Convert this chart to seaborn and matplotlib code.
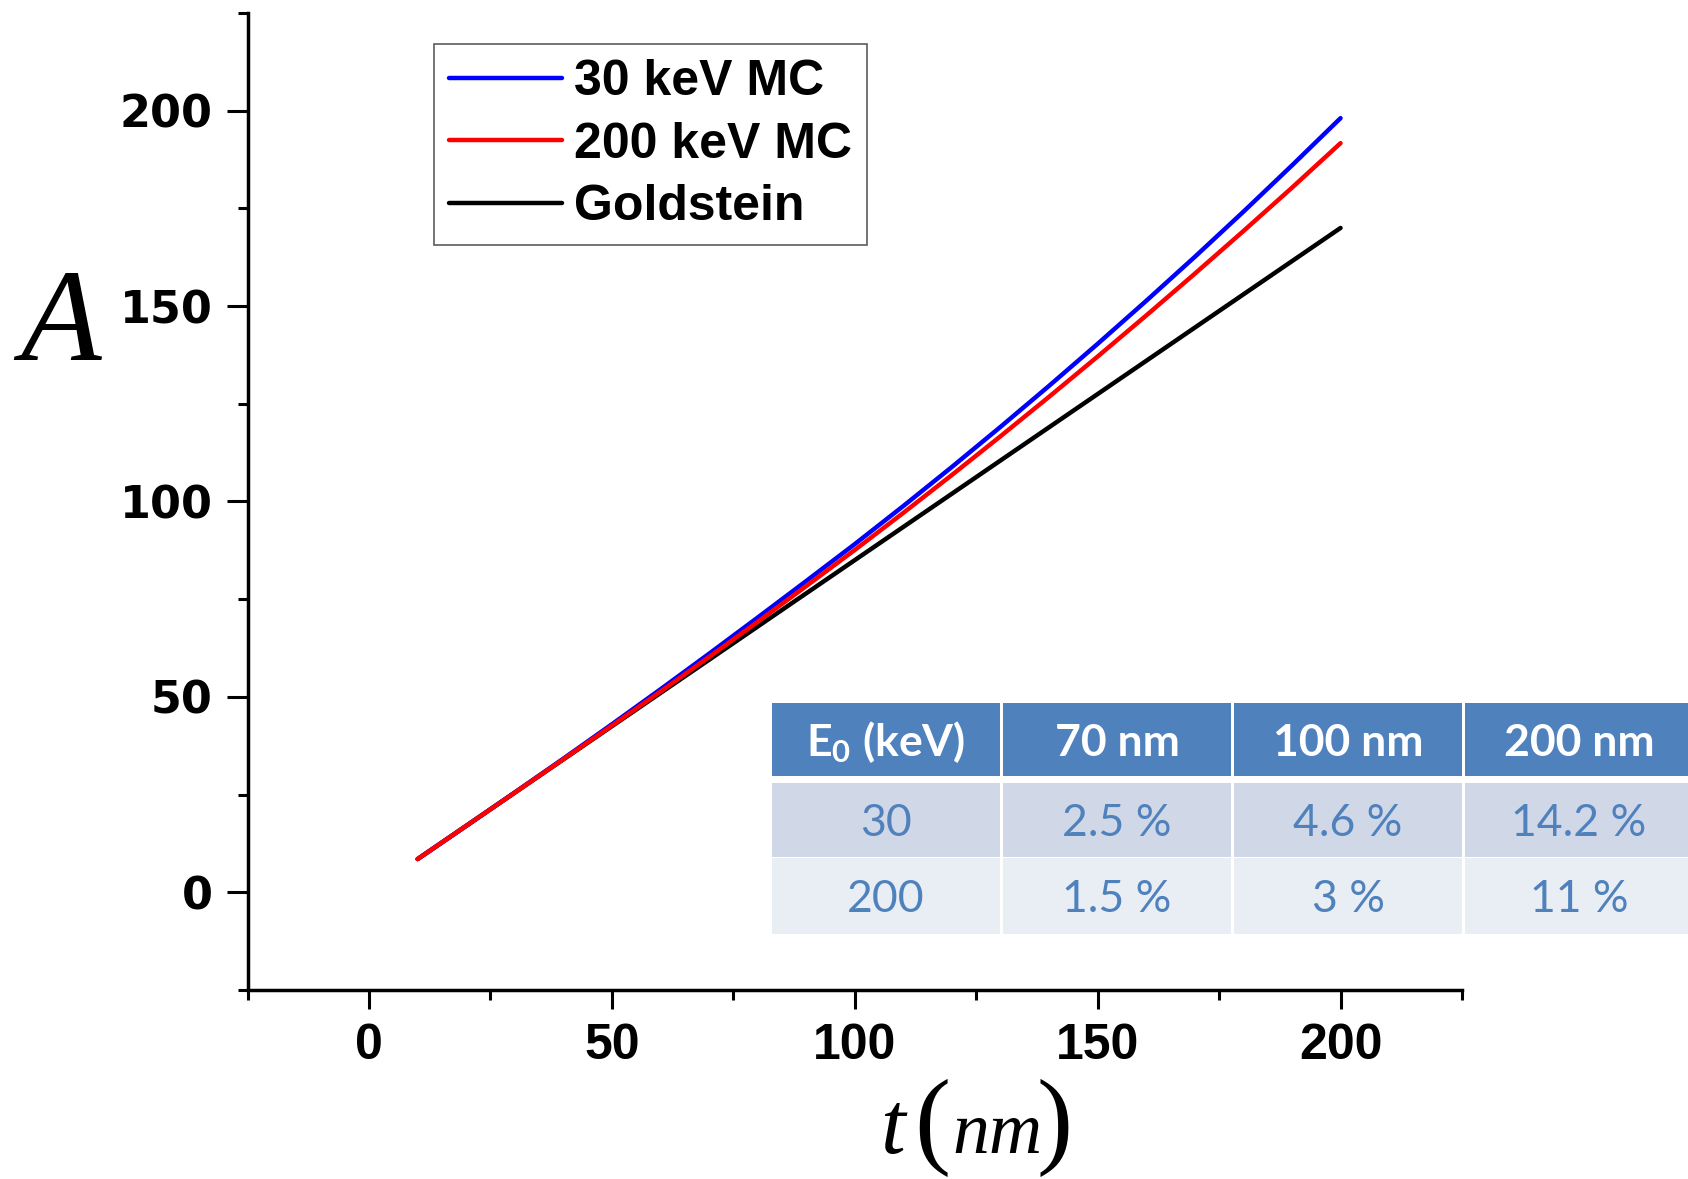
"""
Thickness factor A vs. film thickness t: MC simulations vs. Goldstein.
"""
import matplotlib
matplotlib.use("Agg")

import matplotlib.pyplot as plt
import matplotlib.ticker as mticker
from matplotlib.lines import Line2D
from matplotlib.patches import Rectangle
import seaborn as sns

# ── Data ─────────────────────────────────────────────────────────────────────
t_nm = [10, 20, 30, 40, 50, 60, 70, 80, 90, 100,
        110, 120, 130, 140, 150, 160, 170, 180, 190, 200]
A_30kev = [8.5, 17.0, 25.55, 34.2, 43.0, 51.95, 61.05, 70.3, 79.65, 89.1,
           98.85, 108.85, 119.1, 129.6, 140.35, 151.35, 162.6, 174.15, 186.0, 198.1]
A_200kev = [8.5, 17.0, 25.5, 34.05, 42.65, 51.35, 60.2, 69.2, 78.35, 87.6,
            97.1, 106.8, 116.7, 126.8, 137.1, 147.6, 158.3, 169.2, 180.3, 191.7]
A_goldstein = [8.5, 17.0, 25.5, 34.0, 42.5, 51.0, 59.5, 68.0, 76.5, 85.0,
               93.5, 102.0, 110.5, 119.0, 127.5, 136.0, 144.5, 153.0, 161.5, 170.0]

series_labels = ["30 keV MC", "200 keV MC", "Goldstein"]
series_colors = ["#0000FF", "#FF0000", "#000000"]

table_header = ["E$_{\\mathbf{0}}$ (keV)", "70 nm", "100 nm", "200 nm"]
table_rows = [
    ["30", "2.5 %", "4.6 %", "14.2 %"],
    ["200", "1.5 %", "3 %", "11 %"],
]

# ── Style ────────────────────────────────────────────────────────────────────
sns.set_theme(style="ticks")
plt.rcParams.update({
    "font.family": ["Liberation Sans", "DejaVu Sans"],
    "font.weight": "bold",
    "text.color": "black",
    "axes.labelcolor": "black",
    "axes.linewidth": 2.5,
    "axes.edgecolor": "black",
    "xtick.major.width": 2.2, "ytick.major.width": 2.2,
    "xtick.minor.width": 2.2, "ytick.minor.width": 2.2,
    "xtick.major.size": 14, "ytick.major.size": 15,
    "xtick.minor.size": 7, "ytick.minor.size": 7,
    "xtick.color": "black", "ytick.color": "black",
    "xtick.labelcolor": "black", "ytick.labelcolor": "black",
    "mathtext.fontset": "custom",
    "mathtext.rm": "Lato",
    "mathtext.bf": "Lato:bold",
    "mathtext.it": "Lato:italic",
})

W, H = 1688, 1179
fig = plt.figure(figsize=(W / 100, H / 100), dpi=100)
ax = fig.add_axes([247.6 / W, 1 - 990 / H, (1462 - 247.6) / W, (990 - 13) / H])

# Goldstein first, then the MC curves (red ends on top)
sns.lineplot(x=t_nm, y=A_goldstein, color=series_colors[2], lw=3.2, ax=ax)
sns.lineplot(x=t_nm, y=A_30kev, color=series_colors[0], lw=3.2, ax=ax)
sns.lineplot(x=t_nm, y=A_200kev, color=series_colors[1], lw=3.2, ax=ax)

ax.set_xlim(-25, 225)
ax.set_ylim(-25, 225)
ax.xaxis.set_major_locator(mticker.MultipleLocator(50))
ax.yaxis.set_major_locator(mticker.MultipleLocator(50))
ax.xaxis.set_minor_locator(mticker.AutoMinorLocator(2))
ax.yaxis.set_minor_locator(mticker.AutoMinorLocator(2))
ax.tick_params(axis="x", which="major", pad=10, labelsize=36,
               labelfontfamily="Liberation Sans")
ax.tick_params(axis="y", which="major", pad=10, labelsize=32,
               labelfontfamily="DejaVu Sans")
sns.despine(ax=ax)
ax.set_xlabel("")
ax.set_ylabel("")

# Axis titles in italic serif
serif = "Liberation Serif"
fig.text(20 / W, 1 - 360 / H, "A", family=serif, style="italic",
         weight="normal", fontsize=95, va="baseline", ha="left")
fig.text(880 / W, 1 - 1153 / H, "t", family=serif, style="italic",
         weight="normal", fontsize=64, va="baseline", ha="left")
fig.text(914 / W, 1 - 1154 / H, "(", family=serif, weight="normal",
         fontsize=78, va="baseline", ha="left")
fig.text(952 / W, 1 - 1153 / H, "nm", family=serif, style="italic",
         weight="normal", fontsize=53, va="baseline", ha="left")
fig.text(1037 / W, 1 - 1154 / H, ")", family=serif, weight="normal",
         fontsize=78, va="baseline", ha="left")

# Legend
handles = [Line2D([], [], color=c, lw=3.2) for c in series_colors]
leg = ax.legend(handles, series_labels, loc="upper left",
                bbox_to_anchor=(434 / W, 1 - 44 / H),
                bbox_transform=fig.transFigure, borderaxespad=0,
                prop={"family": "Liberation Sans", "weight": "bold", "size": 36},
                handlelength=2.25, handletextpad=0.25, labelspacing=0.33,
                borderpad=0.3, frameon=True, fancybox=False)
leg.get_frame().set_edgecolor("#333333")
leg.get_frame().set_linewidth(1.2)
for txt in leg.get_texts():
    txt.set_color("black")

# ── Inset table ──────────────────────────────────────────────────────────────
HEAD_BG, ROW_BG = "#4F81BD", ["#D0D8E8", "#E9EDF4"]
TXT_BLUE = "#4F81BD"
col_w = 231
row_spans = [(0, 73), (80, 154), (155, 231)]   # y from top, pixels
tax = fig.add_axes([772 / W, 1 - 934 / H, 4 * col_w / W, 231 / H])
tax.set_xlim(0, 4 * col_w)
tax.set_ylim(231, 0)
tax.axis("off")

for r, cells in enumerate([table_header] + table_rows):
    y0, y1 = row_spans[r]
    face = HEAD_BG if r == 0 else ROW_BG[r - 1]
    for c, txt in enumerate(cells):
        x0 = c * col_w
        tax.add_patch(Rectangle((x0, y0), col_w - 3, y1 - y0,
                                facecolor=face, edgecolor="none"))
        if r == 0:
            tax.text(x0 + (col_w - 3) / 2, (y0 + y1) / 2 + 3, txt, color="white",
                     family="Lato", weight="bold", fontsize=32,
                     ha="center", va="center")
        else:
            tax.text(x0 + (col_w - 3) / 2, (y0 + y1) / 2 + 4, txt, color=TXT_BLUE,
                     family="Lato", weight="normal", fontsize=32,
                     ha="center", va="center")

fig.savefig("out.png", dpi=100)
